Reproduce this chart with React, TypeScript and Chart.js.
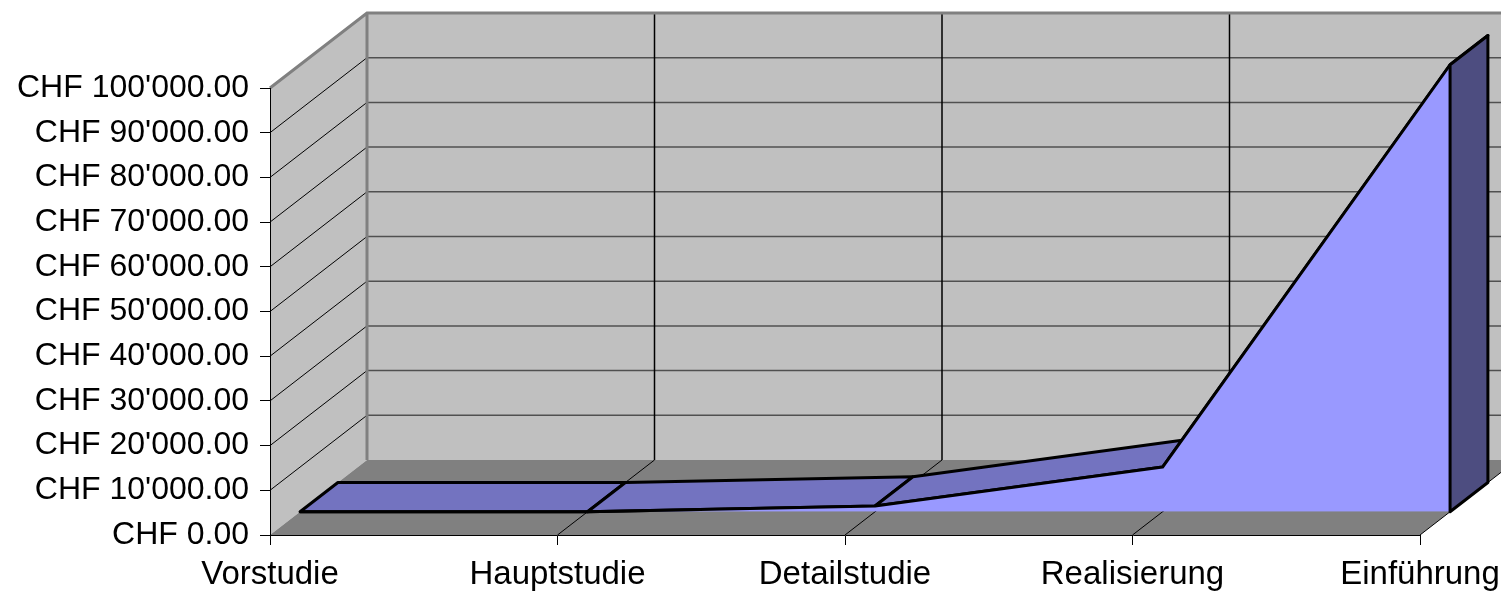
import React, { useEffect, useRef } from 'react';
import { Chart, registerables } from 'chart.js';

Chart.register(...registerables);

// ---- data ----
const categories: string[] = ['Vorstudie', 'Hauptstudie', 'Detailstudie', 'Realisierung', 'Einführung'];
const costs: number[] = [0, 0, 1300, 10000, 100000];
const yTickValues: number[] = [0, 10000, 20000, 30000, 40000, 50000, 60000, 70000, 80000, 90000, 100000];
const Y_MIN = 0;
const Y_MAX = 100000;

// ---- 3D look (style only) ----
const DEPTH_X = 97;
const DEPTH_Y = -75;
const SERIES_FRONT = 0.31;
const SERIES_BACK = 0.7;
const FONT = '"Liberation Sans", Arial, sans-serif';

function formatCHF(v: number): string {
  const [i, d] = Number(v).toFixed(2).split('.');
  const withSep = i.replace(/\B(?=(\d{3})+(?!\d))/g, "'");
  return `CHF ${withSep}.${d}`;
}

function poly(ctx: CanvasRenderingContext2D, pts: number[][]) {
  ctx.beginPath();
  ctx.moveTo(pts[0][0], pts[0][1]);
  for (let k = 1; k < pts.length; k++) ctx.lineTo(pts[k][0], pts[k][1]);
  ctx.closePath();
}

function line(ctx: CanvasRenderingContext2D, x1: number, y1: number, x2: number, y2: number) {
  ctx.beginPath();
  ctx.moveTo(x1, y1);
  ctx.lineTo(x2, y2);
  ctx.stroke();
}

const box3d = {
  id: 'box3d',
  beforeDraw(chart: any) {
    const { ctx, chartArea } = chart;
    const x = chart.scales.x;
    const y = chart.scales.y;
    const L = chartArea.left;
    const R = chartArea.right;
    const T = y.getPixelForValue(Y_MAX);
    const B = y.getPixelForValue(Y_MIN);
    const dx = DEPTH_X, dy = DEPTH_Y;
    ctx.save();
    // back wall
    ctx.fillStyle = '#C0C0C0';
    ctx.fillRect(L + dx, T + dy, R - L + 2, B - T);
    // left wall
    poly(ctx, [[L, B], [L, T], [L + dx, T + dy], [L + dx, B + dy]]);
    ctx.fill();
    // floor
    ctx.fillStyle = '#808080';
    poly(ctx, [[L, B], [R, B], [R + dx, B + dy], [L + dx, B + dy]]);
    ctx.fill();
    // back wall horizontal grid
    ctx.strokeStyle = '#505050';
    ctx.lineWidth = 1.5;
    yTickValues.forEach((v) => {
      if (v <= Y_MIN || v >= Y_MAX) return;
      const py = y.getPixelForValue(v);
      line(ctx, L + dx, py + dy, R + dx, py + dy);
    });
    // left wall diagonals
    ctx.strokeStyle = '#000';
    ctx.lineWidth = 1;
    yTickValues.forEach((v) => {
      if (v <= Y_MIN || v >= Y_MAX) return;
      const py = y.getPixelForValue(v);
      line(ctx, L, py, L + dx, py + dy);
    });
    // floor diagonals + back wall verticals
    for (let i = 1; i < categories.length; i++) {
      const px = x.getPixelForValue(i);
      ctx.lineWidth = 1;
      line(ctx, px, B, px + dx, B + dy);
      if (i < categories.length - 1) {
        ctx.lineWidth = 1.5;
        line(ctx, px + dx, B + dy, px + dx, T + dy);
      }
    }
    // gray wall edges
    ctx.strokeStyle = '#808080';
    ctx.lineWidth = 3;
    ctx.beginPath();
    ctx.moveTo(L, T);
    ctx.lineTo(L + dx, T + dy);
    ctx.lineTo(R + dx + 5, T + dy);
    ctx.moveTo(L + dx, T + dy);
    ctx.lineTo(L + dx, B + dy);
    ctx.stroke();
    ctx.restore();
  },
  beforeDatasetsDraw(chart: any) {
    const { ctx } = chart;
    const x = chart.scales.x;
    const y = chart.scales.y;
    const fx = DEPTH_X * SERIES_FRONT, fy = DEPTH_Y * SERIES_FRONT;
    const bx = DEPTH_X * SERIES_BACK, by = DEPTH_Y * SERIES_BACK;
    const pts = costs.map((v, i) => [x.getPixelForValue(i), y.getPixelForValue(v)]);
    ctx.save();
    ctx.fillStyle = '#7373C0';
    ctx.strokeStyle = '#000';
    ctx.lineWidth = 3;
    ctx.lineJoin = 'round';
    for (let i = 0; i < pts.length - 1; i++) {
      const a = pts[i], b = pts[i + 1];
      poly(ctx, [
        [a[0] + fx, a[1] + fy],
        [b[0] + fx, b[1] + fy],
        [b[0] + bx, b[1] + by],
        [a[0] + bx, a[1] + by],
      ]);
      ctx.fill();
      ctx.stroke();
    }
    ctx.restore();
    // shift the front face of the area into the depth of the box
    ctx.save();
    ctx.translate(fx, fy);
  },
  afterDatasetsDraw(chart: any) {
    const { ctx } = chart;
    ctx.restore();
    const x = chart.scales.x;
    const y = chart.scales.y;
    const fx = DEPTH_X * SERIES_FRONT, fy = DEPTH_Y * SERIES_FRONT;
    const bx = DEPTH_X * SERIES_BACK, by = DEPTH_Y * SERIES_BACK;
    const n = costs.length - 1;
    const px = x.getPixelForValue(n);
    const py = y.getPixelForValue(costs[n]);
    const base = y.getPixelForValue(Y_MIN);
    ctx.save();
    ctx.fillStyle = '#4D4D80';
    ctx.strokeStyle = '#000';
    ctx.lineWidth = 3;
    ctx.lineJoin = 'round';
    poly(ctx, [
      [px + fx, py + fy],
      [px + bx, py + by],
      [px + bx, base + by],
      [px + fx, base + fy],
    ]);
    ctx.fill();
    ctx.stroke();
    ctx.restore();
  },
};

export default function App() {
  const ref = useRef<HTMLCanvasElement | null>(null);
  useEffect(() => {
    if (!ref.current) return;
    const chart = new Chart(ref.current, {
      type: 'line',
      data: {
        labels: categories,
        datasets: [
          {
            data: costs,
            fill: 'origin',
            backgroundColor: '#9999FF',
            borderColor: '#000',
            borderWidth: 3,
            borderJoinStyle: 'round',
            pointRadius: 0,
            tension: 0,
            clip: false,
          } as any,
        ],
      },
      options: {
        responsive: false,
        animation: false,
        layout: { padding: { top: 88, right: 81, left: 0, bottom: 0 } },
        plugins: { legend: { display: false }, tooltip: { enabled: false } },
        scales: {
          x: {
            type: 'category',
            offset: false,
            grid: { drawOnChartArea: false, drawTicks: true, tickLength: 10, color: '#000', lineWidth: 1 },
            border: { display: true, color: '#000', width: 1 },
            ticks: {
              color: '#000',
              font: { family: FONT, size: 33 },
              padding: 10,
              maxRotation: 0,
              autoSkip: false,
            },
            afterFit: (s: any) => {
              s.height = 57;
              s.paddingLeft = 0;
              s.paddingRight = 0;
            },
          },
          y: {
            min: Y_MIN,
            max: Y_MAX,
            afterBuildTicks: (s: any) => {
              s.ticks = yTickValues.map((v) => ({ value: v }));
            },
            grid: { drawOnChartArea: false, drawTicks: true, tickLength: 10, color: '#000', lineWidth: 1 },
            border: { display: true, color: '#000', width: 1 },
            ticks: {
              color: '#000',
              font: { family: FONT, size: 32 },
              padding: 11,
              callback: (v: any) => formatCHF(Number(v)),
            },
            afterFit: (s: any) => {
              s.width = 270;
              s.paddingTop = 0;
              s.paddingBottom = 0;
            },
          },
        },
      } as any,
      plugins: [box3d],
    });
    return () => chart.destroy();
  }, []);
  return (
    <div style={{ position: 'fixed', left: 0, top: 0, width: 1501, height: 592, background: '#fff' }}>
      <canvas ref={ref} width={1501} height={592} style={{ display: 'block' }} />
    </div>
  );
}
